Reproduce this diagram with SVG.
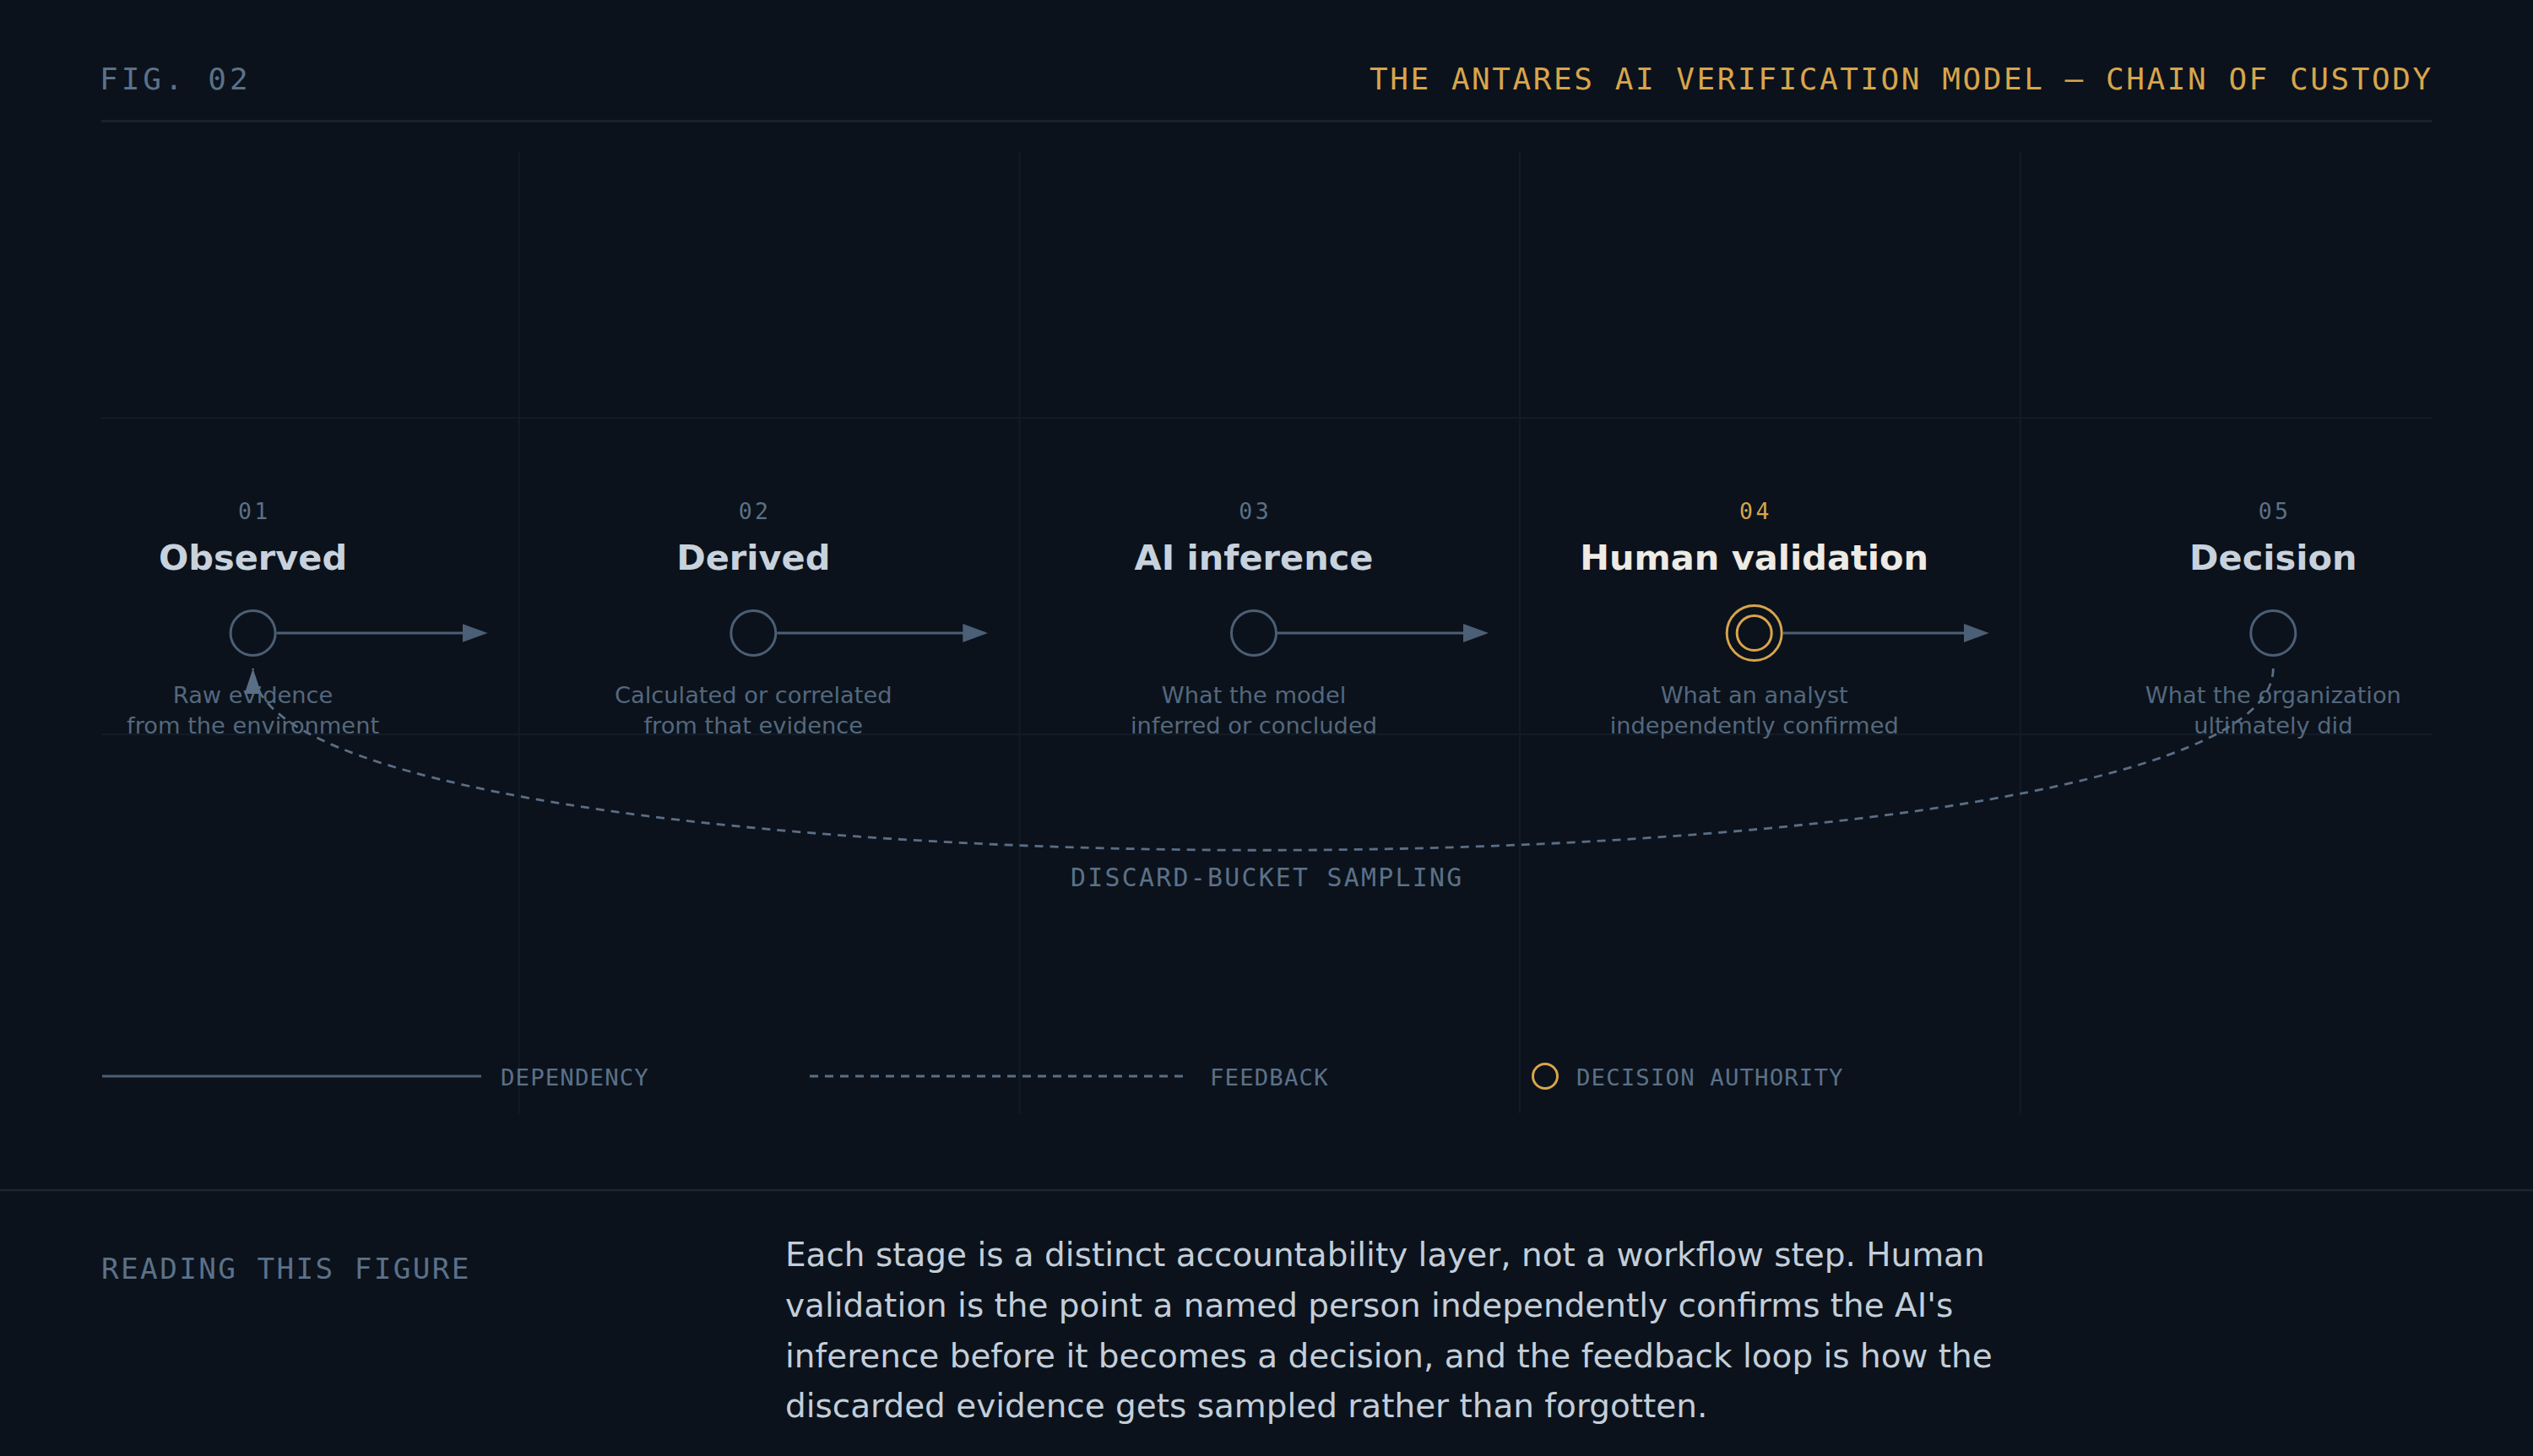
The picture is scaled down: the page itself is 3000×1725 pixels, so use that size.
<svg xmlns="http://www.w3.org/2000/svg" width="3000" height="1725" viewBox="0 0 3000 1725">
  <defs>
    <style>
      .mono { font-family: "DejaVu Sans Mono", "Liberation Mono", monospace; }
      .sans { font-family: "DejaVu Sans", "Liberation Sans", sans-serif; }
      .grid { stroke: #131c26; stroke-width: 2; fill: none; }
      .rule { stroke: #1b2631; stroke-width: 2.5; fill: none; }
      .num { font-size: 26.5px; fill: #5b7189; letter-spacing: 3.4px; text-anchor: middle; }
      .num.gold { fill: #d8a54c; }
      .title { font-size: 41.5px; font-weight: 700; fill: #c8d2dd; text-anchor: middle; }
      .title.hi { fill: #eeeae4; }
      .desc { font-size: 27.25px; fill: #54687e; text-anchor: middle; }
      .ring { fill: none; stroke: #4b5f76; stroke-width: 3; }
      .ring.gold { stroke: #d8a54c; }
      .dep { stroke: #4b5f76; stroke-width: 3.2; fill: none; }
      .fb { stroke: #5a6e85; stroke-width: 2.8; fill: none; stroke-dasharray: 10 8; }
      .legend { font-size: 27.4px; fill: #5b7189; letter-spacing: 1.1px; }
    </style>
    <marker id="arrowDep" markerUnits="userSpaceOnUse" viewBox="0 0 30 22" markerWidth="30" markerHeight="22" refX="2" refY="11" orient="auto">
      <path d="M0,0 L30,11 L0,22 Z" fill="#4b5f76"/>
    </marker>
    <marker id="arrowFb" markerUnits="userSpaceOnUse" viewBox="0 0 30 20" markerWidth="30" markerHeight="20" refX="30" refY="10" orient="auto">
      <path d="M0,0 L30,10 L0,20 Z" fill="#5a6e85"/>
    </marker>
  </defs>

  <rect x="0" y="0" width="3000" height="1725" fill="#0b121b"/>

  <!-- background grid -->
  <g id="grid">
    <line class="grid" x1="614.7" y1="180" x2="614.7" y2="1319"/>
    <line class="grid" x1="1207.4" y1="180" x2="1207.4" y2="1319"/>
    <line class="grid" x1="1800.1" y1="180" x2="1800.1" y2="1319"/>
    <line class="grid" x1="2392.8" y1="180" x2="2392.8" y2="1319"/>
    <line class="grid" x1="120" y1="495" x2="2880" y2="495"/>
    <line class="grid" x1="120" y1="870" x2="2880" y2="870"/>
  </g>

  <!-- header -->
  <g id="header">
    <text class="mono" x="118" y="105.5" font-size="36" fill="#5b7189" letter-spacing="4.0">FIG. 02</text>
    <text class="mono" x="1622" y="105.5" font-size="36" fill="#d8a54c" letter-spacing="2.55">THE ANTARES AI VERIFICATION MODEL — CHAIN OF CUSTODY</text>
    <line class="rule" x1="120" y1="143.5" x2="2880" y2="143.5"/>
  </g>

  <!-- nodes -->
  <g id="node-observed">
    <text class="mono num" x="301.3" y="615">01</text>
    <text class="sans title" x="299.6" y="675">Observed</text>
    <circle class="ring" cx="299.6" cy="750" r="26.5"/>
    <text class="sans desc" x="299.6" y="832.7">Raw evidence</text>
    <text class="sans desc" x="299.6" y="869.3">from the environment</text>
  </g>
  <g id="node-derived">
    <text class="mono num" x="894" y="615">02</text>
    <text class="sans title" x="892.3" y="675">Derived</text>
    <circle class="ring" cx="892.3" cy="750" r="26.5"/>
    <text class="sans desc" x="892.3" y="832.7">Calculated or correlated</text>
    <text class="sans desc" x="892.3" y="869.3">from that evidence</text>
  </g>
  <g id="node-ai-inference">
    <text class="mono num" x="1486.7" y="615">03</text>
    <text class="sans title" x="1485" y="675">AI inference</text>
    <circle class="ring" cx="1485" cy="750" r="26.5"/>
    <text class="sans desc" x="1485" y="832.7">What the model</text>
    <text class="sans desc" x="1485" y="869.3">inferred or concluded</text>
  </g>
  <g id="node-human-validation">
    <text class="mono num gold" x="2079.4" y="615">04</text>
    <text class="sans title hi" x="2077.7" y="675">Human validation</text>
    <circle class="ring gold" cx="2077.7" cy="750" r="32.5" stroke-width="4"/>
    <circle class="ring gold" cx="2077.7" cy="750" r="20.5" stroke-width="3"/>
    <text class="sans desc" x="2077.7" y="832.7">What an analyst</text>
    <text class="sans desc" x="2077.7" y="869.3">independently confirmed</text>
  </g>
  <g id="node-decision">
    <text class="mono num" x="2694" y="615">05</text>
    <text class="sans title" x="2692.3" y="675">Decision</text>
    <circle class="ring" cx="2692.3" cy="750" r="26.5"/>
    <text class="sans desc" x="2692.3" y="832.7">What the organization</text>
    <text class="sans desc" x="2692.3" y="869.3">ultimately did</text>
  </g>

  <!-- connectors -->
  <g id="connectors">
    <line class="dep" x1="327.6" y1="750" x2="549.6" y2="750" marker-end="url(#arrowDep)"/>
    <line class="dep" x1="920.3" y1="750" x2="1142.3" y2="750" marker-end="url(#arrowDep)"/>
    <line class="dep" x1="1513" y1="750" x2="1735" y2="750" marker-end="url(#arrowDep)"/>
    <line class="dep" x1="2112" y1="750" x2="2327.7" y2="750" marker-end="url(#arrowDep)"/>
    <path class="fb" d="M2692.3,792 C2692.3,1079 299.6,1079 299.6,792" marker-end="url(#arrowFb)"/>
    <text class="mono" x="1268" y="1050" font-size="29.8" fill="#5b7189" letter-spacing="2.3">DISCARD-BUCKET SAMPLING</text>
  </g>

  <!-- legend -->
  <g id="legend">
    <line class="dep" x1="121" y1="1275" x2="570" y2="1275"/>
    <text class="mono legend" x="593" y="1285.7">DEPENDENCY</text>
    <line class="fb" x1="959" y1="1275" x2="1402" y2="1275"/>
    <text class="mono legend" x="1433" y="1285.7">FEEDBACK</text>
    <circle cx="1830" cy="1275" r="14.5" fill="none" stroke="#d8a54c" stroke-width="3"/>
    <text class="mono legend" x="1867" y="1285.7">DECISION AUTHORITY</text>
  </g>

  <!-- reading note -->
  <g id="reading-note">
    <line class="rule" x1="0" y1="1410" x2="3000" y2="1410"/>
    <text class="mono" x="120" y="1515" font-size="34.3" fill="#5b7189" letter-spacing="2.4">READING THIS FIGURE</text>
    <text class="sans" font-size="38.95" fill="#c3ceda">
      <tspan x="930" y="1500">Each stage is a distinct accountability layer, not a workflow step. Human</tspan>
      <tspan x="930" y="1560">validation is the point a named person independently confirms the AI's</tspan>
      <tspan x="930" y="1620">inference before it becomes a decision, and the feedback loop is how the</tspan>
      <tspan x="930" y="1679">discarded evidence gets sampled rather than forgotten.</tspan>
    </text>
  </g>
</svg>
